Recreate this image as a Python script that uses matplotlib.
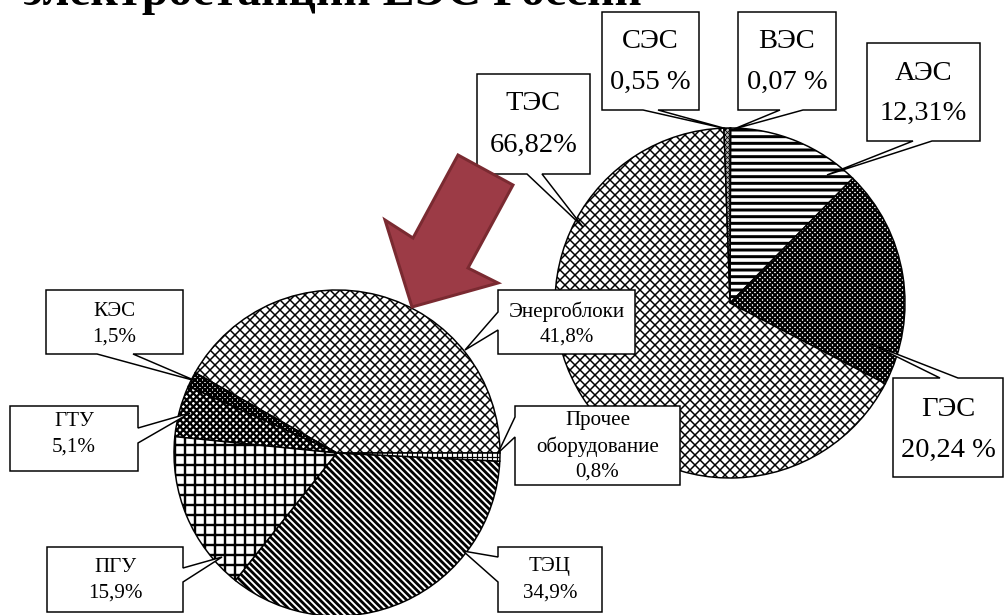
import matplotlib
matplotlib.use("Agg")
import matplotlib.pyplot as plt
from matplotlib.patches import Polygon

DPI = 120
W, H = 1005, 615

plt.rcParams["font.family"] = ["Liberation Serif", "DejaVu Serif"]

title = "электростанций ЕЭС России"

# Структура установленной мощности ЕЭС России
ues_labels = ["ВЭС", "АЭС", "ГЭС", "ТЭС", "СЭС"]
ues_values = [0.07, 12.31, 20.24, 66.82, 0.55]
ues_pct_sep = [" ", "", " ", "", " "]

# Структура мощности ТЭС по типам оборудования
tps_labels = ["Энергоблоки", "КЭС", "ГТУ", "ПГУ", "ТЭЦ", "Прочее\nоборудование"]
tps_values = [41.8, 1.5, 5.1, 15.9, 34.9, 0.8]


def px(v):
    """pixels -> points"""
    return v * 72.0 / DPI


def Y(y):
    """pixel row (from top) -> data y"""
    return H - y


def pct(v, decimals, sep=""):
    return f"{v:.{decimals}f}".replace(".", ",") + sep + "%"


fig = plt.figure(figsize=(W / DPI, H / DPI), dpi=DPI)
ax = fig.add_axes([0, 0, 1, 1])


def use_hatch_lw(artist, lw_pt):
    """Draw the artist with its own hatch line width."""
    orig_draw = artist.draw

    def draw(renderer):
        with plt.rc_context({"hatch.linewidth": lw_pt}):
            orig_draw(renderer)

    artist.draw = draw
    if hasattr(artist, "set_hatch_linewidth"):
        artist.set_hatch_linewidth(lw_pt)


def style_wedges(wedges, styles):
    for w, (face, hatch, hlw) in zip(wedges, styles):
        w.set_facecolor(face)
        w.set_edgecolor("black")
        w.set_linewidth(px(1.5))
        if hatch:
            w.set_hatch(hatch)
            use_hatch_lw(w, px(hlw))


# ---- right pie: ЕЭС ----
ues_styles = [
    ("black", None, 1),              # ВЭС
    ("white", "---", 3.0),           # АЭС
    ("white", "xxxxxxxx", 2.0),      # ГЭС
    ("white", "xxxx", 1.5),          # ТЭС
    ("#bfbfbf", "xxxxxxxx", 0.8),    # СЭС
]
w_r, _ = ax.pie(ues_values, startangle=90, counterclock=False,
                center=(730, Y(303)), radius=175, normalize=True,
                frame=True)
style_wedges(w_r, ues_styles)

# ---- left pie: ТЭС ----
tps_styles = [
    ("white", "xxxx", 1.5),          # Энергоблоки
    ("white", "xxxxxxxx", 2.2),      # КЭС
    ("white", "xxxxxx", 2.3),        # ГТУ
    ("white", "++", 2.4),            # ПГУ
    ("white", "\\" * 6, 2.8),        # ТЭЦ
    ("white", "++++", 1.2),          # Прочее
]
w_l, _ = ax.pie(tps_values, startangle=0, counterclock=True,
                center=(337, Y(453)), radius=163, normalize=True,
                frame=True)
style_wedges(w_l, tps_styles)

ax.set_xlim(0, W)
ax.set_ylim(0, H)
ax.set_aspect("equal")
ax.axis("off")


def callout(rect, side, a, b, target, lines, line_y, fs):
    x0, y0, x1, y1 = rect
    tl, tr, br, bl = (x0, y0), (x1, y0), (x1, y1), (x0, y1)
    if side == "top":
        pts = [tl, (a, y0), target, (b, y0), tr, br, bl]
    elif side == "right":
        pts = [tl, tr, (x1, a), target, (x1, b), br, bl]
    elif side == "bottom":
        pts = [tl, tr, br, (b, y1), target, (a, y1), bl]
    else:
        pts = [tl, tr, br, bl, (x0, b), target, (x0, a)]
    poly = Polygon([(x, Y(y)) for x, y in pts], closed=True,
                   facecolor="white", edgecolor="black",
                   linewidth=px(1.5), zorder=5)
    ax.add_patch(poly)
    cx = (x0 + x1) / 2
    for txt, ly in zip(lines, line_y):
        ax.text(cx, Y(ly), txt, ha="center", va="center",
                fontsize=fs, color="black", zorder=6)


FS_R = px(28.5)
FS_L = px(21)

# right pie labels
callout((602, 12, 699, 110), "bottom", 643, 658, (727, 129),
        [ues_labels[4], pct(ues_values[4], 2, ues_pct_sep[4])], [42, 82], FS_R)
callout((738, 12, 836, 110), "bottom", 780, 803, (734, 129),
        [ues_labels[0], pct(ues_values[0], 2, ues_pct_sep[0])], [42, 82], FS_R)
callout((867, 43, 980, 141), "bottom", 913, 932, (827, 175),
        [ues_labels[1], pct(ues_values[1], 2, ues_pct_sep[1])], [73, 113], FS_R)
callout((477, 74, 590, 174), "bottom", 527, 542, (583, 227),
        [ues_labels[3], pct(ues_values[3], 2, ues_pct_sep[3])], [103, 145], FS_R)
callout((893, 378, 1003, 477), "top", 940, 958, (871, 344),
        [ues_labels[2], pct(ues_values[2], 2, ues_pct_sep[2])], [410, 450], FS_R)

# left pie labels
callout((46, 290, 183, 354), "bottom", 97, 133, (196, 381),
        [tps_labels[1], pct(tps_values[1], 1)], [312, 337], FS_L)
callout((10, 406, 138, 471), "right", 428, 443, (190, 413),
        [tps_labels[2], pct(tps_values[2], 1)], [422, 447], FS_L)
callout((47, 547, 183, 612), "right", 568, 582, (222, 557),
        [tps_labels[3], pct(tps_values[3], 1)], [567, 593], FS_L)
callout((498, 290, 635, 354), "left", 312, 330, (465, 350),
        [tps_labels[0], pct(tps_values[0], 1)], [312, 337], FS_L)
callout((515, 406, 680, 485), "left", 417, 437, (498, 453),
        tps_labels[5].split("\n") + [pct(tps_values[5], 1)], [420, 447, 472], FS_L)
callout((498, 547, 602, 612), "left", 557, 582, (463, 551),
        [tps_labels[4], pct(tps_values[4], 1)], [567, 593], FS_L)

# red pointer arrow
arrow_px = [(458, 155), (513, 185), (468, 268), (498, 283),
            (412, 307), (385, 220), (413, 238)]
ax.add_patch(Polygon([(x, Y(y)) for x, y in arrow_px], closed=True,
                     facecolor="#9c3b46", edgecolor="#7a2a31",
                     linewidth=px(3), joinstyle="miter", zorder=8))

# title, partly above the top edge
t = fig.text(23 / W, 1 - 5 / H, title, fontsize=36, fontweight="bold",
             ha="left", va="baseline", color="black")
fig.canvas.draw()
wpx = t.get_window_extent().width
t.set_fontsize(36 * 619 / wpx)

fig.savefig("out.png", dpi=DPI)
